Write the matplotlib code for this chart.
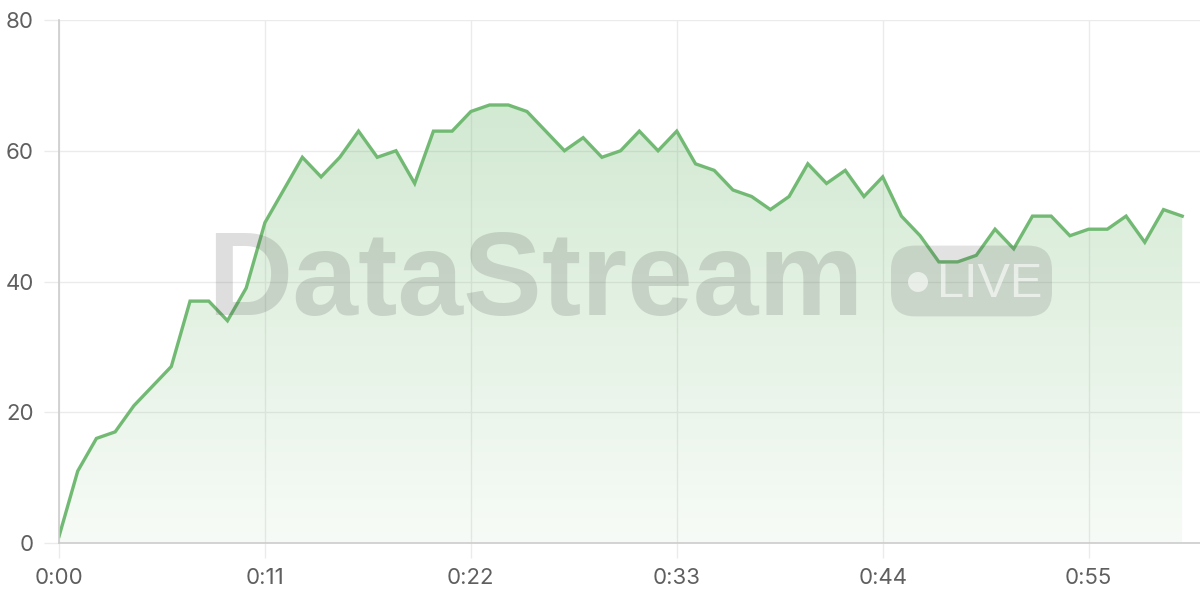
import numpy as np
import matplotlib
matplotlib.use("Agg")
import matplotlib.pyplot as plt
from matplotlib.patches import FancyBboxPatch, Ellipse, Polygon
from matplotlib.colors import LinearSegmentedColormap

# ---- data ----
seconds = list(range(61))
values = [1, 11, 16, 17, 21, 24, 27, 37, 37, 34,
          39, 49, 54, 59, 56, 59, 63, 59, 60, 55,
          63, 63, 66, 67, 67, 66, 63, 60, 62, 59,
          60, 63, 60, 63, 58, 57, 54, 53, 51, 53,
          58, 55, 57, 53, 56, 50, 47, 43, 43, 44,
          48, 45, 50, 50, 47, 48, 48, 50, 46, 51,
          50]
xticks = [0, 11, 22, 33, 44, 55]
xtick_labels = ["0:00", "0:11", "0:22", "0:33", "0:44", "0:55"]
yticks = [0, 20, 40, 60, 80]

LINE = "#72ba74"
GRID = "#ebebeb"
AXIS = "#cccccc"
TXT = "#5f5f5f"
FONT = ["Inter", "DejaVu Sans"]

fig = plt.figure(figsize=(12, 6), dpi=100)
ax = fig.add_axes([59/1200, 1-543/600, 1-59/1200, (543-20)/600])
ax.set_xlim(0, 60.95)
ax.set_ylim(0, 80)

x = np.array(seconds, dtype=float)
y = np.array(values, dtype=float)

# gradient fill
grad = np.linspace(0, 1, 256).reshape(-1, 1)
cmap = LinearSegmentedColormap.from_list(
    "g", [(0.45, 0.73, 0.45, 0.06), (0.45, 0.73, 0.45, 0.32)])
im = ax.imshow(grad, extent=[x[0], x[-1], 0, max(values)], origin="lower",
               aspect="auto", cmap=cmap, zorder=1)
verts = [(x[0], 0)] + list(zip(x, y)) + [(x[-1], 0)]
poly = Polygon(verts, closed=True, facecolor="none", edgecolor="none")
ax.add_patch(poly)
im.set_clip_path(poly)

ax.plot(x, y, color=LINE, lw=2.4, zorder=5, solid_joinstyle="miter")

# grid & axes
ax.set_xticks(xticks)
ax.set_xticklabels(xtick_labels)
ax.set_yticks(yticks)
ax.grid(True, color=GRID, lw=1.0, zorder=0)
ax.set_axisbelow(True)
for s in ["top", "right"]:
    ax.spines[s].set_visible(False)
for s in ["left", "bottom"]:
    ax.spines[s].set_color(AXIS)
    ax.spines[s].set_linewidth(1.2)
    ax.spines[s].set_zorder(6)
ax.tick_params(axis="both", length=11, width=1.0, color=GRID,
               labelcolor=TXT, labelsize=16, pad=7)
for lab in ax.get_xticklabels() + ax.get_yticklabels():
    lab.set_family(FONT)

# watermark
fig.text(207/1200, 1-315/600, "DataStream", family=["Liberation Sans", "DejaVu Sans"],
         fontweight="bold", fontsize=85, color=(0.25, 0.25, 0.25, 0.17),
         ha="left", va="baseline", zorder=4)
badge = FancyBboxPatch((891/1200 + 0.012, 1-314/600 + 0.02),
                       (1052-891)/1200 - 0.024, (314-248)/600 - 0.04,
                       boxstyle="round,pad=0.012,rounding_size=0.02",
                       transform=fig.transFigure, facecolor=(0.25, 0.25, 0.25, 0.15),
                       edgecolor="none", zorder=4, mutation_aspect=2)
fig.add_artist(badge)
fig.add_artist(Ellipse((918/1200, 1-282/600), 20/1200, 20/600, transform=fig.transFigure,
                       facecolor=(1, 1, 1, 0.6), edgecolor="none", zorder=4))
fig.text(937/1200, 1-297/600, "LIVE", family=["Liberation Sans", "DejaVu Sans"],
         fontsize=35, color=(1, 1, 1, 0.6), ha="left", va="baseline", zorder=4)

fig.savefig("out.png", dpi=100, facecolor="white")
